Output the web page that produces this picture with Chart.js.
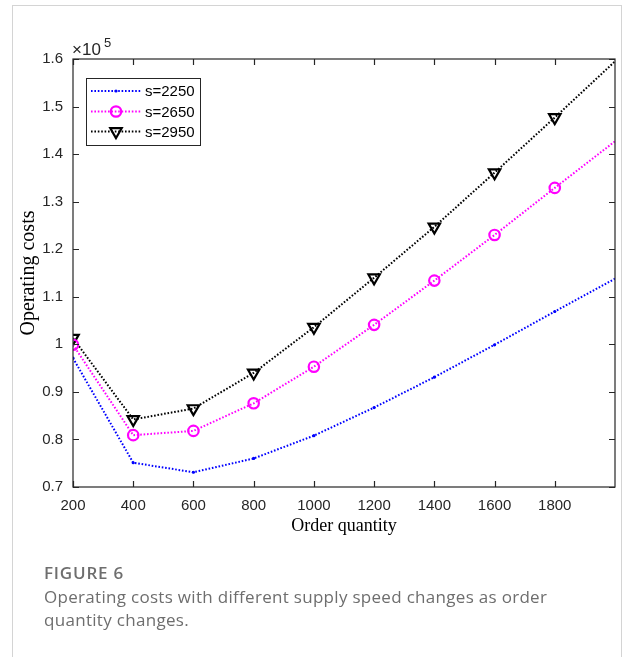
<!DOCTYPE html>
<html>
<head>
<meta charset="utf-8">
<script src="https://cdn.jsdelivr.net/npm/chart.js@4.4.1/dist/chart.umd.min.js"></script>
<style>
  html, body { margin: 0; padding: 0; background: #fff; width: 625px; height: 657px; overflow: hidden; }
  #frame { position: absolute; left: 12px; top: 5px; width: 610px; height: 700px; border: 1px solid #d4d4d4; box-sizing: border-box; }
  #wrap { position: absolute; left: 0; top: 0; width: 625px; height: 657px; }
  #cap { position: absolute; left: 44px; top: 561px; font-family: "Open Sans", "Noto Sans", sans-serif; color: #6e6e6e; }
  #cap .t { font-size: 17px; font-weight: 600; line-height: 24px; letter-spacing: 0.8px; }
  #cap .d { font-size: 17px; line-height: 23px; width: 575px; letter-spacing: 0.3px; }
</style>
</head>
<body>
<div id="frame"></div>
<div id="wrap"><canvas id="c" width="625" height="657"></canvas></div>
<div id="cap"><div class="t">FIGURE 6</div><div class="d">Operating costs with different supply speed changes as order<br>quantity changes.</div></div>
<script>
// ---- data ----
const orderQuantity = [200, 400, 600, 800, 1000, 1200, 1400, 1600, 1800, 2000];
const costS2250 = [97100, 75100, 73100, 76000, 80800, 86700, 93100, 99900, 106900, 113800];
const costS2650 = [99900, 80900, 81800, 87600, 95300, 104100, 113400, 123000, 132900, 142700];
const costS2950 = [101300, 84200, 86500, 94000, 103600, 114000, 124700, 136100, 147700, 159500];
const seriesNames = ['s=2250', 's=2650', 's=2950'];
const xTicks = [200, 400, 600, 800, 1000, 1200, 1400, 1600, 1800];
const yTicks = [70000, 80000, 90000, 100000, 110000, 120000, 130000, 140000, 150000, 160000];

const AX = '#262626';
const lastIdx = orderQuantity.length - 1;
function mk(vals) { return vals.map((v, i) => ({ x: orderQuantity[i], y: v })); }
const styles = [
  { color: '#0000ff', pointStyle: 'circle', radius: 1.6, rotation: 0, pbw: 0, fill: '#0000ff' },
  { color: '#ff00ff', pointStyle: 'circle', radius: 5.2, rotation: 0, pbw: 2.2, fill: 'rgba(0,0,0,0)' },
  { color: '#000000', pointStyle: 'triangle', radius: 6.6, rotation: 180, pbw: 2.2, fill: 'rgba(0,0,0,0)' }
];
const seriesVals = [costS2250, costS2650, costS2950];
const datasets = seriesVals.map((vals, k) => ({
  label: seriesNames[k],
  data: mk(vals),
  borderColor: styles[k].color,
  borderWidth: 2,
  borderDash: [1.6, 1.8],
  backgroundColor: styles[k].fill,
  pointStyle: styles[k].pointStyle,
  pointRotation: styles[k].rotation,
  pointRadius: (c) => c.dataIndex === lastIdx ? 0 : styles[k].radius,
  pointBorderWidth: styles[k].pbw,
  pointBorderColor: styles[k].color,
  pointBackgroundColor: styles[k].fill,
  tension: 0
}));

const decor = {
  id: 'decor',
  afterDraw(chart) {
    const { ctx, chartArea: a, scales: { x, y } } = chart;
    ctx.save();
    ctx.strokeStyle = AX; ctx.lineWidth = 1.2; ctx.setLineDash([]);
    ctx.strokeRect(a.left, a.top, a.right - a.left, a.bottom - a.top);
    const tl = 6;
    ctx.beginPath();
    xTicks.forEach(v => {
      const px = Math.round(x.getPixelForValue(v)) + 0.5;
      ctx.moveTo(px, a.bottom); ctx.lineTo(px, a.bottom - tl);
      ctx.moveTo(px, a.top); ctx.lineTo(px, a.top + tl);
    });
    yTicks.forEach(v => {
      const py = Math.round(y.getPixelForValue(v)) + 0.5;
      ctx.moveTo(a.left, py); ctx.lineTo(a.left + tl, py);
      ctx.moveTo(a.right, py); ctx.lineTo(a.right - tl, py);
    });
    ctx.stroke();
    // exponent label
    ctx.fillStyle = AX; ctx.textBaseline = 'alphabetic'; ctx.textAlign = 'left';
    ctx.font = '17px "Liberation Sans", Arial, sans-serif';
    ctx.fillText('\u00d710', 72, 55);
    ctx.font = '13px "Liberation Sans", Arial, sans-serif';
    ctx.fillText('5', 104, 47);
    // legend
    const L = 86, T = 78, W = 114, H = 67;
    ctx.fillStyle = '#fff'; ctx.fillRect(L, T, W, H);
    ctx.strokeStyle = AX; ctx.lineWidth = 1; ctx.strokeRect(L + 0.5, T + 0.5, W, H);
    const rowsY = [91, 111.5, 131.5];
    seriesNames.forEach((name, k) => {
      const st = styles[k], ry = rowsY[k];
      ctx.strokeStyle = st.color; ctx.lineWidth = 2; ctx.setLineDash([1.6, 1.8]);
      ctx.beginPath(); ctx.moveTo(91, ry); ctx.lineTo(141, ry); ctx.stroke();
      ctx.setLineDash([]);
      ctx.strokeStyle = st.color; ctx.fillStyle = st.fill; ctx.lineWidth = st.pbw;
      Chart.helpers.drawPoint(ctx, { pointStyle: st.pointStyle, rotation: st.rotation, radius: st.radius, borderWidth: st.pbw }, 116, ry);
      ctx.fillStyle = '#000'; ctx.textBaseline = 'middle'; ctx.textAlign = 'left';
      ctx.font = '15px "Liberation Sans", Arial, sans-serif';
      ctx.fillText(name, 145, ry + 1);
    });
    ctx.restore();
  }
};

new Chart(document.getElementById('c'), {
  type: 'line',
  data: { datasets },
  options: {
    responsive: false,
    animation: false,
    layout: { padding: { left: 0, top: 59, right: 8, bottom: 120 } },
    plugins: { legend: { display: false }, tooltip: { enabled: false } },
    scales: {
      x: {
        type: 'linear', min: 200, max: 2000,
        afterFit: (s) => { s.height = 50; },
        grid: { display: false, drawTicks: false },
        border: { display: false },
        ticks: {
          stepSize: 200, padding: 10, color: AX, maxRotation: 0, autoSkip: false,
          font: { family: '"Liberation Sans", Arial, sans-serif', size: 15 },
          callback: (v) => xTicks.includes(v) ? String(v) : ''
        },
        title: { display: true, text: 'Order quantity', color: '#000', padding: { top: 0, bottom: 0 },
          font: { family: '"Liberation Serif", "Times New Roman", serif', size: 18 } }
      },
      y: {
        min: 70000, max: 160000,
        afterFit: (s) => { s.width = 73; },
        grid: { display: false, drawTicks: false },
        border: { display: false },
        ticks: {
          stepSize: 10000, padding: 10, color: AX,
          font: { family: '"Liberation Sans", Arial, sans-serif', size: 15 },
          callback: (v) => String(Number((v / 100000).toFixed(1)))
        },
        title: { display: true, text: 'Operating costs', color: '#000', padding: { top: 17, bottom: 0 },
          font: { family: '"Liberation Serif", "Times New Roman", serif', size: 20 } }
      }
    }
  },
  plugins: [decor]
});
</script>
</body>
</html>
